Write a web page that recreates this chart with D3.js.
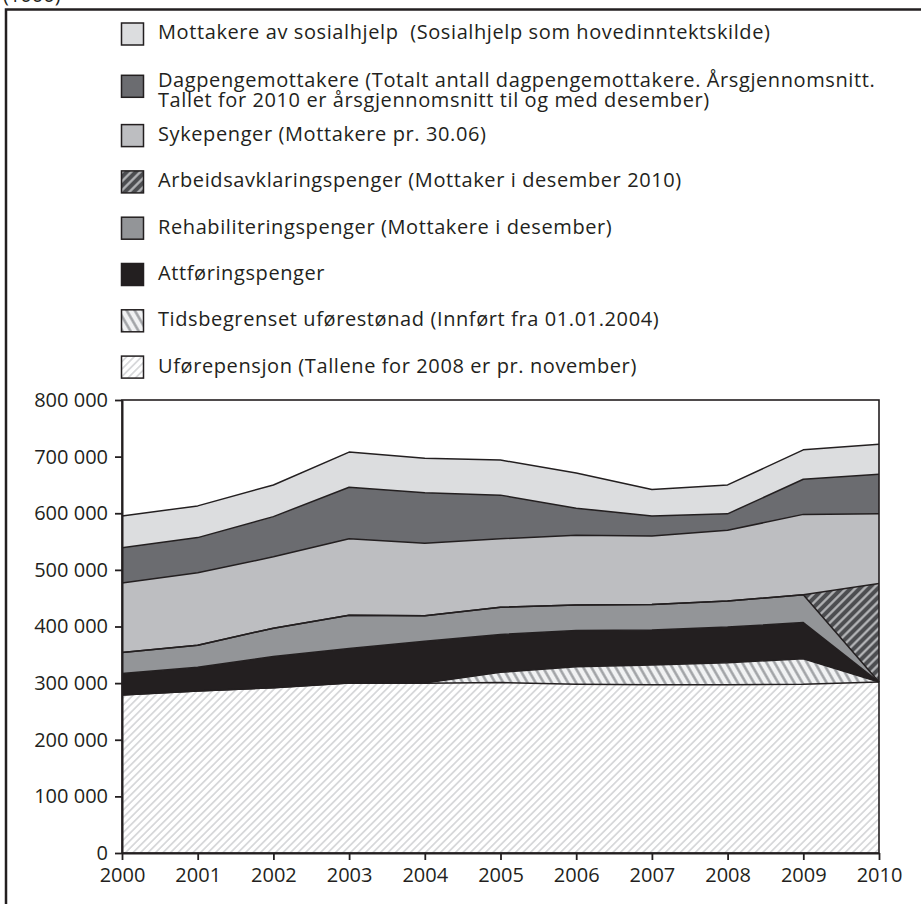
<!DOCTYPE html>
<html>
<head>
<meta charset="utf-8">
<script src="https://cdn.jsdelivr.net/npm/d3@7"></script>
<style>
	html, body { margin: 0; padding: 0; background: #fff; }
	svg { display: block; }
	text { font-family: "Open Sans", sans-serif; fill: #231f20; }
</style>
</head>
<body>
<div id="chart-area"></div>
<script>
/* Data (persons) */
const years = [2000, 2001, 2002, 2003, 2004, 2005, 2006, 2007, 2008, 2009, 2010]
const uforepensjon = [279000, 286000, 292000, 300000, 300000, 301000, 298000, 297000, 297000, 298000, 302000]
const tidsbegrenset = [0, 0, 0, 0, 0, 18000, 31000, 35000, 39000, 45000, 0]
const attforing = [38000, 42000, 55000, 61000, 74000, 67000, 64000, 62000, 63000, 64000, 0]
const rehabilitering = [37000, 39000, 50000, 59000, 45000, 48000, 45000, 45000, 46000, 49000, 0]
const arbeidsavklaring = [0, 0, 0, 0, 0, 0, 0, 0, 0, 0, 174000]
const sykepenger = [123000, 128000, 126000, 135000, 128000, 121000, 123000, 121000, 125000, 142000, 123000]
const dagpenger = [62000, 62000, 71000, 91000, 89000, 77000, 48000, 35000, 29000, 62000, 70000]
const sosialhjelp = [56000, 56000, 56000, 62000, 61000, 62000, 62000, 47000, 51000, 52000, 53000]

// stacking order, bottom to top
const stackKeys = ['ufor', 'tids', 'attf', 'rehab', 'arbeid', 'syke', 'dag', 'sosial']
const stackValues = [uforepensjon, tidsbegrenset, attforing, rehabilitering, arbeidsavklaring, sykepenger, dagpenger, sosialhjelp]

// legend, top to bottom
const legendKeys = ['sosial', 'dag', 'syke', 'arbeid', 'rehab', 'attf', 'tids', 'ufor']
const legendLabels = [
	['Mottakere av sosialhjelp  (Sosialhjelp som hovedinntektskilde)'],
	['Dagpengemottakere (Totalt antall dagpengemottakere. Årsgjennomsnitt.', 'Tallet for 2010 er årsgjennomsnitt til og med desember)'],
	['Sykepenger (Mottakere pr. 30.06)'],
	['Arbeidsavklaringspenger (Mottaker i desember 2010)'],
	['Rehabiliteringspenger (Mottakere i desember)'],
	['Attføringspenger'],
	['Tidsbegrenset uførestønad (Innført fra 01.01.2004)'],
	['Uførepensjon (Tallene for 2008 er pr. november)']
]
const yTickValues = [0, 100000, 200000, 300000, 400000, 500000, 600000, 700000, 800000]
const unitLabel = '(1000)'

const table = years.map((year, i) => {
	const row = { year }
	stackKeys.forEach((k, j) => { row[k] = stackValues[j][i] })
	return row
})

/* Canvas */
const CANVAS_WIDTH = 921
const CANVAS_HEIGHT = 904
const INK = '#231f20'

const $svg = d3.select('#chart-area')
	.append('svg')
	.attr('width', CANVAS_WIDTH)
	.attr('height', CANVAS_HEIGHT)

/* Patterns */
const $defs = $svg.append('defs')
function stripes(id, bg, fg, gap, lineWidth, angle) {
	const p = $defs.append('pattern')
		.attr('id', id)
		.attr('patternUnits', 'userSpaceOnUse')
		.attr('width', gap)
		.attr('height', gap)
		.attr('patternTransform', `rotate(${angle})`)
	p.append('rect').attr('width', gap).attr('height', gap).attr('fill', bg)
	p.append('line')
		.attr('x1', gap / 2).attr('x2', gap / 2)
		.attr('y1', -1).attr('y2', gap + 1)
		.attr('stroke', fg)
		.attr('stroke-width', lineWidth)
}
stripes('pat-ufor', '#ffffff', '#d3d4d6', 5.3, 1.6, 45)
stripes('pat-tids', '#f1f2f3', '#9c9ea1', 7, 2.4, -30)
stripes('pat-arbeid', '#4c4d50', '#b9babc', 6.4, 2.2, 45)

const fills = {
	sosial: '#dcdddf',
	dag: '#6b6c70',
	syke: '#bdbec1',
	arbeid: 'url(#pat-arbeid)',
	rehab: '#939598',
	attf: '#231f20',
	tids: 'url(#pat-tids)',
	ufor: 'url(#pat-ufor)'
}

/* Outer frame and unit label */
$svg.append('rect')
	.attr('x', 6)
	.attr('y', 9.5)
	.attr('width', 960)
	.attr('height', 960)
	.attr('fill', 'none')
	.attr('stroke', INK)
	.attr('stroke-width', 2.5)

$svg.append('text')
	.attr('x', 3)
	.attr('y', 2)
	.attr('font-size', 20)
	.text(unitLabel)

/* Scales */
const plot = { left: 122, right: 879, top: 400, bottom: 853 }

const xScale = d3.scaleLinear()
	.domain(d3.extent(years))
	.range([plot.left, plot.right])

const yScale = d3.scaleLinear()
	.domain([0, 800000])
	.range([plot.bottom, plot.top])

/* Stacked areas */
const stacked = d3.stack().keys(stackKeys)(table)

const area = d3.area()
	.x(d => xScale(d.data.year))
	.y0(d => yScale(d[0]))
	.y1(d => yScale(d[1]))

const topLine = d3.line()
	.x(d => xScale(d.data.year))
	.y(d => yScale(d[1]))

const $layers = $svg.append('g')

$layers.selectAll('path.layer')
	.data(stacked)
	.enter()
	.append('path')
	.attr('class', 'layer')
	.attr('d', area)
	.attr('fill', d => fills[d.key])

$layers.selectAll('path.edge')
	.data(stacked)
	.enter()
	.append('path')
	.attr('class', 'edge')
	.attr('d', topLine)
	.attr('fill', 'none')
	.attr('stroke', INK)
	.attr('stroke-width', 1.5)
	.attr('stroke-linejoin', 'round')

/* Plot frame */
$svg.append('rect')
	.attr('x', plot.left)
	.attr('y', plot.top)
	.attr('width', plot.right - plot.left)
	.attr('height', plot.bottom - plot.top)
	.attr('fill', 'none')
	.attr('stroke', INK)
	.attr('stroke-width', 1.6)

/* Axes */
const locale = d3.formatLocale({ decimal: ',', thousands: ' ', grouping: [3], currency: ['', ' kr'] })

const xAxisCall = d3.axisBottom(xScale)
	.tickValues(years)
	.tickFormat(d3.format('d'))
	.tickSize(7)
	.tickSizeOuter(0)
	.tickPadding(8)

const yAxisCall = d3.axisLeft(yScale)
	.tickValues(yTickValues)
	.tickFormat(locale.format(','))
	.tickSize(7)
	.tickSizeOuter(0)
	.tickPadding(7)

const $xAxisGroup = $svg.append('g')
	.attr('transform', `translate(0, ${plot.bottom})`)
	.call(xAxisCall)

const $yAxisGroup = $svg.append('g')
	.attr('transform', `translate(${plot.left}, 0)`)
	.call(yAxisCall)

;[$xAxisGroup, $yAxisGroup].forEach($g => {
	$g.select('.domain').attr('stroke', INK).attr('stroke-width', 2)
	$g.selectAll('.tick line').attr('stroke', INK).attr('stroke-width', 1.8)
	$g.selectAll('.tick text')
		.attr('font-family', '"Open Sans", sans-serif')
		.attr('font-size', 20)
		.attr('fill', INK)
})

/* Legend */
const $legend = $svg.append('g')
const rowCenter = i => 34 + i * 46.3 + (i >= 1 ? 6 : 0) + (i >= 2 ? 3 : 0)

legendKeys.forEach((key, i) => {
	const cy = rowCenter(i)
	$legend.append('rect')
		.attr('x', 121.5)
		.attr('y', cy - 11)
		.attr('width', 22)
		.attr('height', 22)
		.attr('fill', fills[key])
		.attr('stroke', INK)
		.attr('stroke-width', 1.5)

	const lines = legendLabels[i]
	const base = cy + 5.4 - (lines.length - 1) * 5
	lines.forEach((line, j) => {
		$legend.append('text')
			.attr('x', 158)
			.attr('y', base + j * 20.3)
			.attr('font-size', 20)
			.attr('letter-spacing', 0.6)
			.style('white-space', 'pre')
			.text(line)
	})
})
</script>
</body>
</html>
